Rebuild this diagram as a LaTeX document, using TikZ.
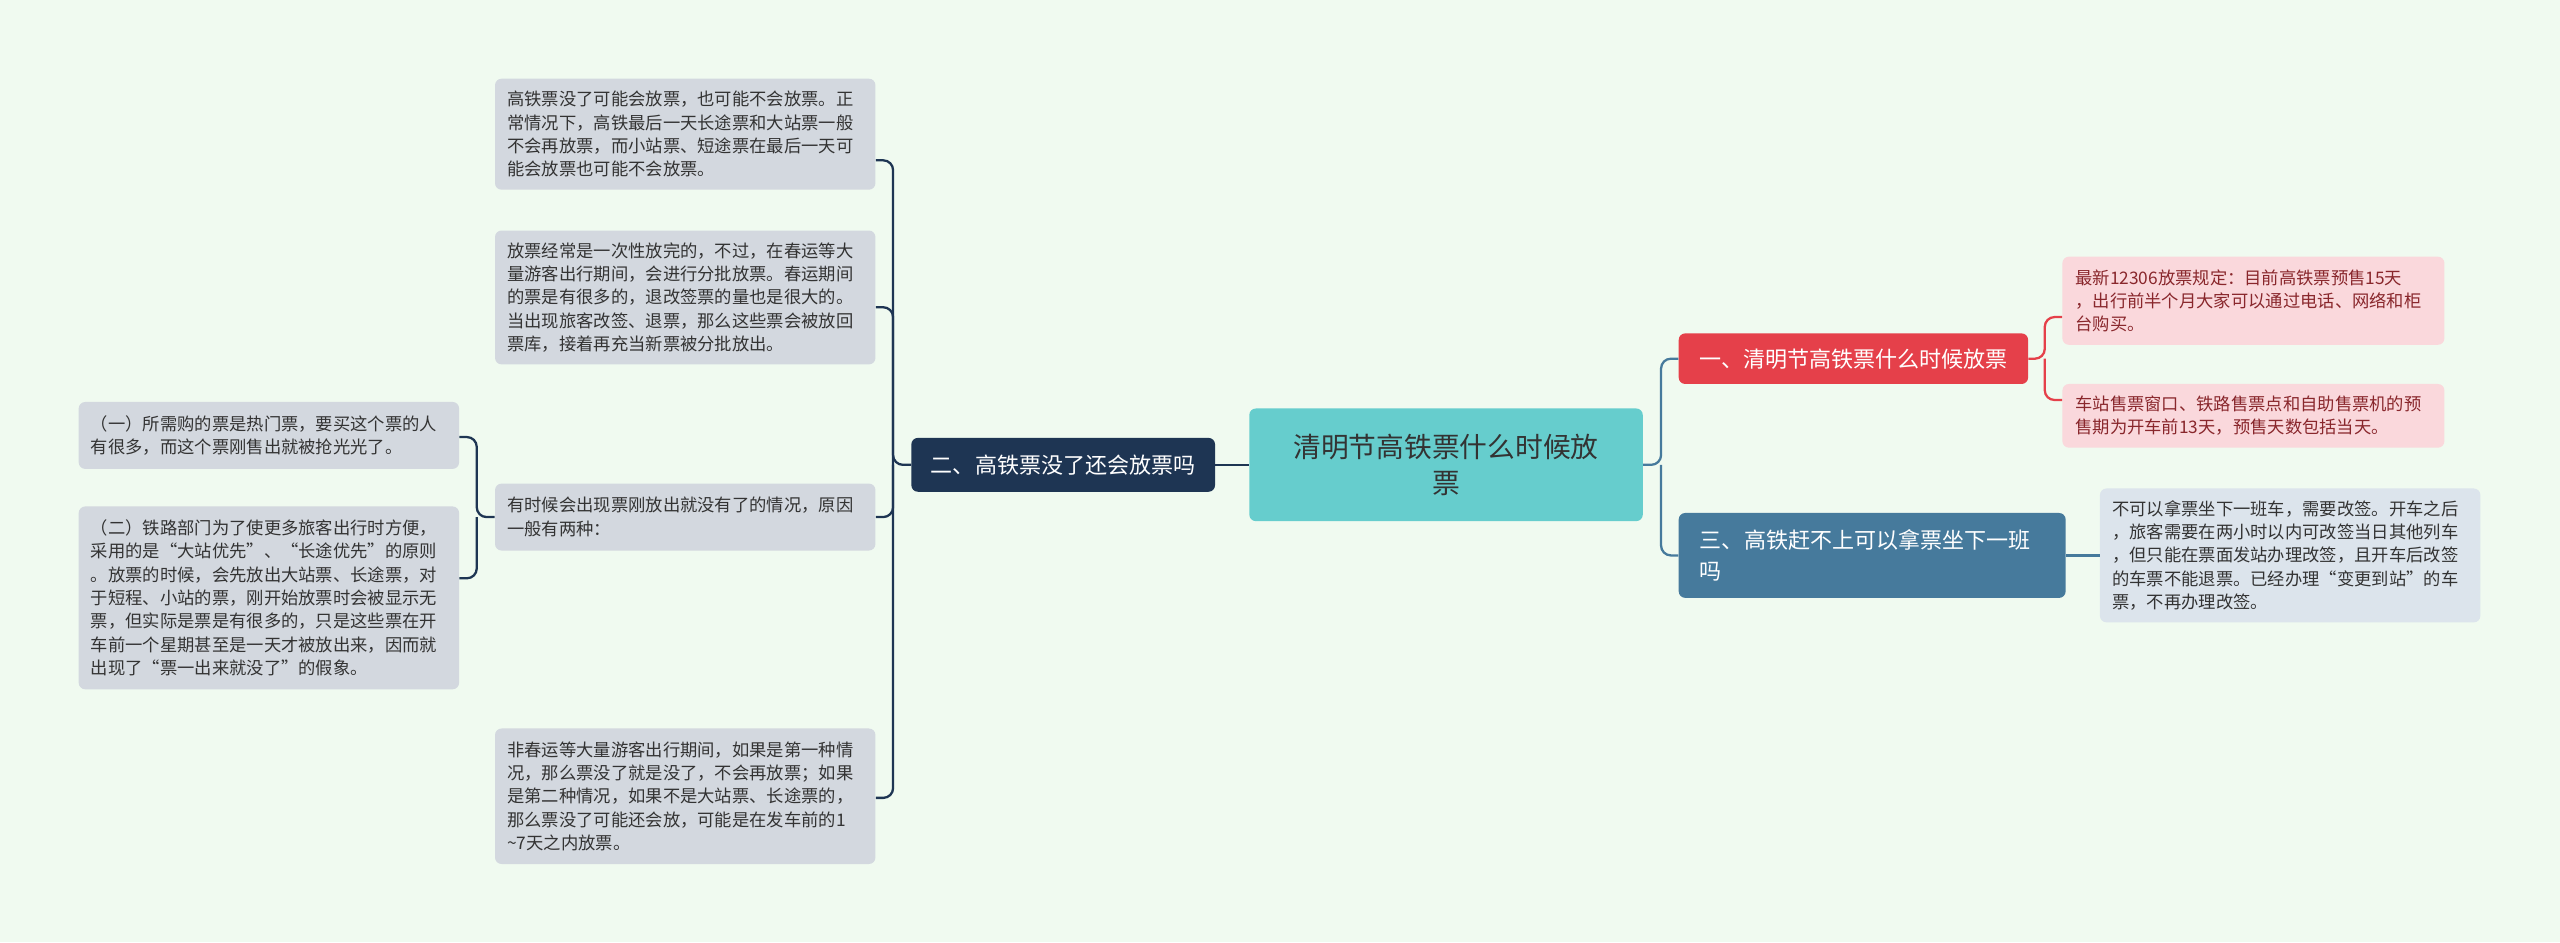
\documentclass[tikz,border=0pt]{standalone}
\usepackage{fontspec}
\setmainfont{Noto Sans CJK SC}
\begin{document}
\begin{tikzpicture}[x=1pt,y=-1pt,
 box/.style={rounded corners=4pt,inner sep=0pt,align=left,anchor=north west},
 leaf/.style={box,fill=#1,font=\fontsize{10.6}{14.3}\selectfont},
 conn/.style={line width=1.4pt,rounded corners=6pt},
]
\definecolor{bg}{HTML}{F0FAF0}
\fill[bg] (0,0) rectangle (1568,577);
\useasboundingbox (0,0) rectangle (1568,577);
\definecolor{gl}{HTML}{D3D8DF}
\definecolor{pk}{HTML}{FAD8DC}
\definecolor{bl}{HTML}{DCE4EC}
\definecolor{nv}{HTML}{1E3553}
\definecolor{rd}{HTML}{E5404A}
\definecolor{st}{HTML}{467A9C}
\definecolor{tl}{HTML}{66CDCD}
\definecolor{tx}{HTML}{333333}
% center
\node[box,fill=tl,minimum width=241pt,minimum height=69pt,align=center,font=\fontsize{17}{22}\selectfont,text=tx] (c) at (765,250) {清明节高铁票什么时候放\\票};
% right mains
\node[box,fill=rd,minimum width=214pt,minimum height=31pt,align=center,font=\fontsize{13.5}{17}\selectfont,text=white] (r1) at (1028,204) {一、清明节高铁票什么时候放票};
\node[box,fill=st,minimum width=237pt,minimum height=52pt,text width=225pt,font=\fontsize{13.5}{19}\selectfont,text=white] (r2) at (1028,314) {\hspace*{7pt}三、高铁赶不上可以拿票坐下一班\\\hspace*{7pt}吗};
% right leaves
\node[leaf=pk,minimum width=234pt,minimum height=54pt,text=rd!60!black] (p1) at (1263,157) {\hspace*{6pt}\parbox{224pt}{最新12306放票规定：目前高铁票预售15天\\，出行前半个月大家可以通过电话、网络和柜\\台购买。}};
\node[leaf=pk,minimum width=234pt,minimum height=39pt,text=rd!60!black] (p2) at (1263,235) {\hspace*{6pt}\parbox{224pt}{车站售票窗口、铁路售票点和自助售票机的预\\售期为开车前13天，预售天数包括当天。}};
\node[leaf=bl,minimum width=233pt,minimum height=82pt,text=tx] (b1) at (1286,299) {\hspace*{6pt}\parbox{224pt}{不可以拿票坐下一班车，需要改签。开车之后\\，旅客需要在两小时以内可改签当日其他列车\\，但只能在票面发站办理改签，且开车后改签\\的车票不能退票。已经办理“变更到站”的车\\票，不再办理改签。}};
% left main
\node[box,fill=nv,minimum width=186pt,minimum height=33pt,align=center,font=\fontsize{13.5}{17}\selectfont,text=white] (l) at (558,268) {二、高铁票没了还会放票吗};
% left leaves
\node[leaf=gl,minimum width=233pt,minimum height=68pt,text=tx] (g1) at (303,48) {\hspace*{6pt}\parbox{224pt}{高铁票没了可能会放票，也可能不会放票。正\\常情况下，高铁最后一天长途票和大站票一般\\不会再放票，而小站票、短途票在最后一天可\\能会放票也可能不会放票。}};
\node[leaf=gl,minimum width=233pt,minimum height=82pt,text=tx] (g2) at (303,141) {\hspace*{6pt}\parbox{224pt}{放票经常是一次性放完的，不过，在春运等大\\量游客出行期间，会进行分批放票。春运期间\\的票是有很多的，退改签票的量也是很大的。\\当出现旅客改签、退票，那么这些票会被放回\\票库，接着再充当新票被分批放出。}};
\node[leaf=gl,minimum width=233pt,minimum height=41pt,text=tx] (g3) at (303,296) {\hspace*{6pt}\parbox{224pt}{有时候会出现票刚放出就没有了的情况，原因\\一般有两种：}};
\node[leaf=gl,minimum width=233pt,minimum height=83pt,text=tx] (g4) at (303,446) {\hspace*{6pt}\parbox{224pt}{非春运等大量游客出行期间，如果是第一种情\\况，那么票没了就是没了，不会再放票；如果\\是第二种情况，如果不是大站票、长途票的，\\那么票没了可能还会放，可能是在发车前的1\\\textasciitilde 7天之内放票。}};
\node[leaf=gl,minimum width=233pt,minimum height=41pt,text=tx] (h1) at (48,246) {\hspace*{6pt}\parbox{224pt}{（一）所需购的票是热门票，要买这个票的人\\有很多，而这个票刚售出就被抢光光了。}};
\node[leaf=gl,minimum width=233pt,minimum height=112pt,text=tx] (h2) at (48,310) {\hspace*{6pt}\parbox{224pt}{（二）铁路部门为了使更多旅客出行时方便，\\采用的是“大站优先”、“长途优先”的原则\\。放票的时候，会先放出大站票、长途票，对\\于短程、小站的票，刚开始放票时会被显示无\\票，但实际是票是有很多的，只是这些票在开\\车前一个星期甚至是一天才被放出来，因而就\\出现了“票一出来就没了”的假象。}};
% connectors
\draw[conn,st] (c.east) -- ++(11,0) coordinate (cr) |- (r1.west);
\draw[conn,st] (cr) |- (r2.west);
\draw[conn,st] (r2.east) -- (b1.west |- r2.east);
\draw[conn,rd] (r1.east) -- ++(10,0) coordinate (rr) |- ([yshift=-10pt]p1.east -| p1.west);
\draw[conn,rd] (rr) |- ([yshift=-10pt]p2.north west);
\draw[conn,nv] (c.west |- l.east) -- (l.east);
\draw[conn,nv] (l.west) -- ++(-11,0) coordinate (lr) |- ([yshift=-16pt]g1.east);
\draw[conn,nv] (lr) |- ([yshift=-6pt]g2.east);
\draw[conn,nv] (lr) |- (g3.east);
\draw[conn,nv] (lr) |- ([yshift=-1pt]g4.east);
\draw[conn,nv] (g3.west) -- ++(-11,0) coordinate (gr) |- ([yshift=-1pt]h1.east);
\draw[conn,nv] (gr) |- ([yshift=12pt]h2.east);
\end{tikzpicture}
\end{document}
